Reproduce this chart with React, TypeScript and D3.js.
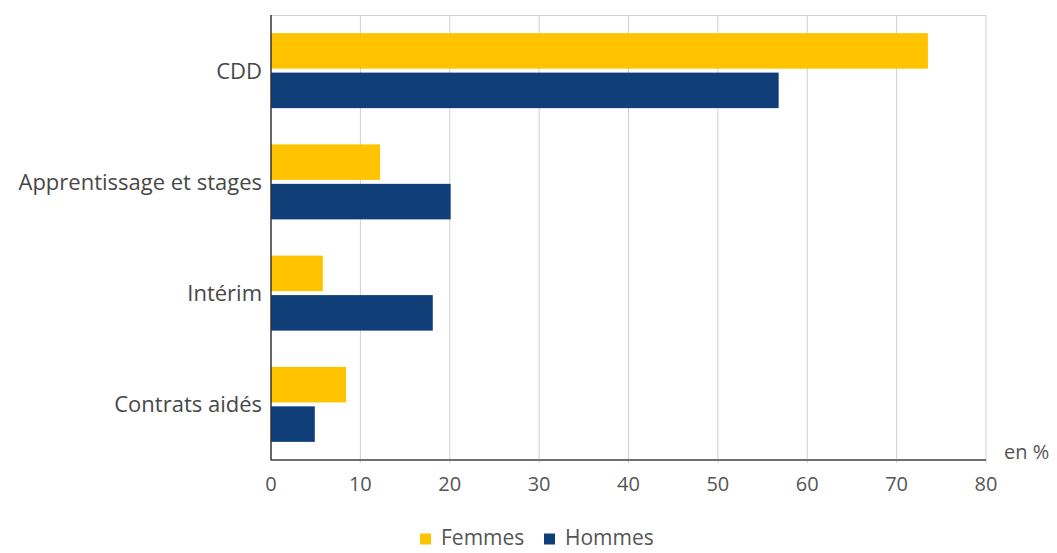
import React, {useEffect, useRef} from 'react';
import * as d3 from 'd3';

const categories = ['CDD', 'Apprentissage et stages', 'Intérim', 'Contrats aidés'];
const series = ['Femmes', 'Hommes'];
const femmes = [73.5, 12.2, 5.8, 8.4];
const hommes = [56.8, 20.1, 18.1, 4.9];
const xTicks = [0, 10, 20, 30, 40, 50, 60, 70, 80];
const colors = ['#FFC300', '#0F3E78'];

export default function App() {
  const ref = useRef<SVGSVGElement>(null);

  useEffect(() => {
    const width = 1057;
    const height = 553;
    const marginLeft = 271;
    const marginRight = 71;
    const marginTop = 15;
    const marginBottom = 93;
    const font = '\'Open Sans\', sans-serif';

    const svg = d3.select(ref.current);
    svg.selectAll('*').remove();

    const x = d3.scaleLinear()
        .domain([0, 80])
        .range([marginLeft, width - marginRight]);

    const y = d3.scaleBand()
        .domain(categories)
        .range([marginTop, height - marginBottom])
        .paddingInner(0.326)
        .paddingOuter(0.163);

    const ySub = d3.scaleBand()
        .domain(series)
        .range([0, y.bandwidth()])
        .paddingInner(0.1);

    // grid
    svg.append('g')
        .selectAll('line')
        .data(xTicks.slice(1))
        .join('line')
        .attr('x1', (d) => x(d))
        .attr('x2', (d) => x(d))
        .attr('y1', marginTop)
        .attr('y2', height - marginBottom + 3)
        .attr('stroke', '#cfcfcf')
        .attr('stroke-width', 1);

    svg.append('line')
        .attr('x1', x(0))
        .attr('x2', x(80))
        .attr('y1', marginTop + 0.5)
        .attr('y2', marginTop + 0.5)
        .attr('stroke', '#cfcfcf');

    // bars
    const rows = categories.map((c, i) => ({cat: c, vals: [femmes[i], hommes[i]]}));
    const groups = svg.append('g')
        .selectAll('g')
        .data(rows)
        .join('g')
        .attr('transform', (d) => `translate(0,${y(d.cat)})`);

    groups.selectAll('rect')
        .data((d) => d.vals.map((v, j) => ({key: series[j], v, j})))
        .join('rect')
        .attr('x', x(0))
        .attr('y', (d) => ySub(d.key) as number)
        .attr('width', (d) => x(d.v) - x(0))
        .attr('height', ySub.bandwidth())
        .attr('fill', (d) => colors[d.j]);

    // axes lines
    svg.append('line')
        .attr('x1', x(0) - 0.5)
        .attr('x2', x(80))
        .attr('y1', height - marginBottom)
        .attr('y2', height - marginBottom)
        .attr('stroke', '#6f6f6f')
        .attr('stroke-width', 2);

    svg.append('line')
        .attr('x1', x(0))
        .attr('x2', x(0))
        .attr('y1', marginTop)
        .attr('y2', height - marginBottom)
        .attr('stroke', '#333')
        .attr('stroke-width', 1.5);

    // category labels
    svg.append('g')
        .selectAll('text')
        .data(categories)
        .join('text')
        .attr('x', marginLeft - 9)
        .attr('y', (d) => (y(d) as number) + y.bandwidth() / 2)
        .attr('dy', '0.36em')
        .attr('text-anchor', 'end')
        .attr('font-family', font)
        .attr('font-size', 22)
        .attr('fill', '#484848')
        .text((d) => d);

    // tick labels
    svg.append('g')
        .selectAll('text')
        .data(xTicks)
        .join('text')
        .attr('x', (d) => x(d))
        .attr('y', height - marginBottom + 24)
        .attr('dy', '0.35em')
        .attr('text-anchor', 'middle')
        .attr('font-family', font)
        .attr('font-size', 20)
        .attr('fill', '#555')
        .text((d) => d);

    svg.append('text')
        .attr('x', 1004)
        .attr('y', 452)
        .attr('dy', '0.35em')
        .attr('font-family', font)
        .attr('font-size', 20)
        .attr('fill', '#555')
        .text('en %');

    // legend
    const legendX = [420, 544];
    const legend = svg.append('g')
        .selectAll('g')
        .data(series)
        .join('g')
        .attr('transform', (d, i) => `translate(${legendX[i]},538)`);

    legend.append('rect')
        .attr('x', 0)
        .attr('y', -4.5)
        .attr('width', 11)
        .attr('height', 11)
        .attr('fill', (d, i) => colors[i]);

    legend.append('text')
        .attr('x', 21)
        .attr('y', 0)
        .attr('dy', '0.35em')
        .attr('font-family', font)
        .attr('font-size', 21)
        .attr('fill', '#555')
        .text((d) => d);
  }, []);

  return (
    <div style={{position: 'absolute', left: 0, top: 0, background: '#fff'}}>
      <svg ref={ref} width={1057} height={553} />
    </div>
  );
}
